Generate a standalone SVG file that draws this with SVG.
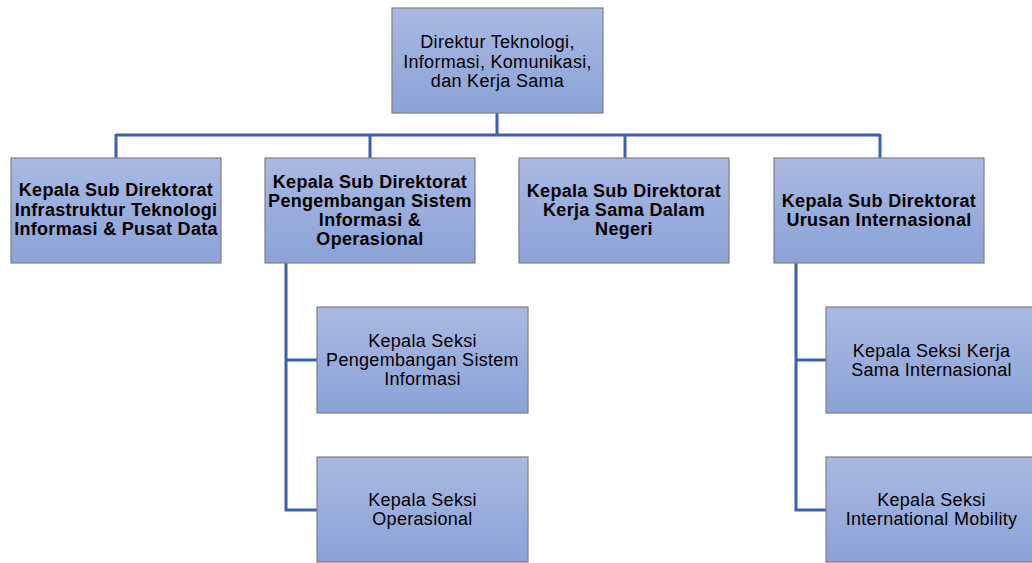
<svg xmlns="http://www.w3.org/2000/svg" width="1032" height="563" viewBox="0 0 1032 563">
<defs>
<linearGradient id="g" x1="0" y1="0" x2="0" y2="1">
<stop offset="0" stop-color="#A9B9E2"/>
<stop offset="1" stop-color="#8BA2D7"/>
</linearGradient>
</defs>
<style>
.box{fill:url(#g);stroke:#7F7F7F;stroke-width:1.2}
.t{font-family:"Liberation Sans",Arial,sans-serif;font-size:18px;letter-spacing:0.3px;fill:#000;text-anchor:middle}
.b{font-weight:bold}
.c{fill:none;stroke:#3A62AE;stroke-width:3}
</style>
<rect width="1032" height="563" fill="#fff"/>
<g id="connectors">
<path class="c" d="M497 113V135M116 135H880M116 134V158M370 134V158M625 134V158M880 134V158"/>
<path class="c" d="M286 263V510H317M286 360H317"/>
<path class="c" d="M796 263V510H826M796 360H826"/>
</g>
<g id="n0"><rect class="box" x="392" y="8" width="211" height="105"/>
<text class="t" x="497.5" y="48">Direktur Teknologi,</text>
<text class="t" x="497.5" y="67.5">Informasi, Komunikasi,</text>
<text class="t" x="497.5" y="87">dan Kerja Sama</text></g>
<g id="n1"><rect class="box" x="11" y="158" width="210" height="105"/>
<text class="t b" x="116" y="196">Kepala Sub Direktorat</text>
<text class="t b" x="116" y="216">Infrastruktur Teknologi</text>
<text class="t b" x="116" y="235">Informasi &amp; Pusat Data</text></g>
<g id="n2"><rect class="box" x="265" y="158" width="210" height="105"/>
<text class="t b" x="370" y="188">Kepala Sub Direktorat</text>
<text class="t b" x="370" y="207">Pengembangan Sistem</text>
<text class="t b" x="370" y="226">Informasi &amp;</text>
<text class="t b" x="370" y="245">Operasional</text></g>
<g id="n3"><rect class="box" x="519" y="158" width="210" height="105"/>
<text class="t b" x="624" y="197">Kepala Sub Direktorat</text>
<text class="t b" x="624" y="216">Kerja Sama Dalam</text>
<text class="t b" x="624" y="235">Negeri</text></g>
<g id="n4"><rect class="box" x="774" y="158" width="210" height="105"/>
<text class="t b" x="879" y="207">Kepala Sub Direktorat</text>
<text class="t b" x="879" y="226">Urusan Internasional</text></g>
<g id="n5"><rect class="box" x="317" y="307" width="211" height="106"/>
<text class="t" x="422.5" y="347">Kepala Seksi</text>
<text class="t" x="422.5" y="366">Pengembangan Sistem</text>
<text class="t" x="422.5" y="385">Informasi</text></g>
<g id="n6"><rect class="box" x="317" y="457" width="211" height="105"/>
<text class="t" x="422.5" y="506">Kepala Seksi</text>
<text class="t" x="422.5" y="525">Operasional</text></g>
<g id="n7"><rect class="box" x="826" y="307" width="211" height="106"/>
<text class="t" x="931.5" y="357">Kepala Seksi Kerja</text>
<text class="t" x="931.5" y="376">Sama Internasional</text></g>
<g id="n8"><rect class="box" x="826" y="457" width="211" height="105"/>
<text class="t" x="931.5" y="506">Kepala Seksi</text>
<text class="t" x="931.5" y="525">International Mobility</text></g>
</svg>
